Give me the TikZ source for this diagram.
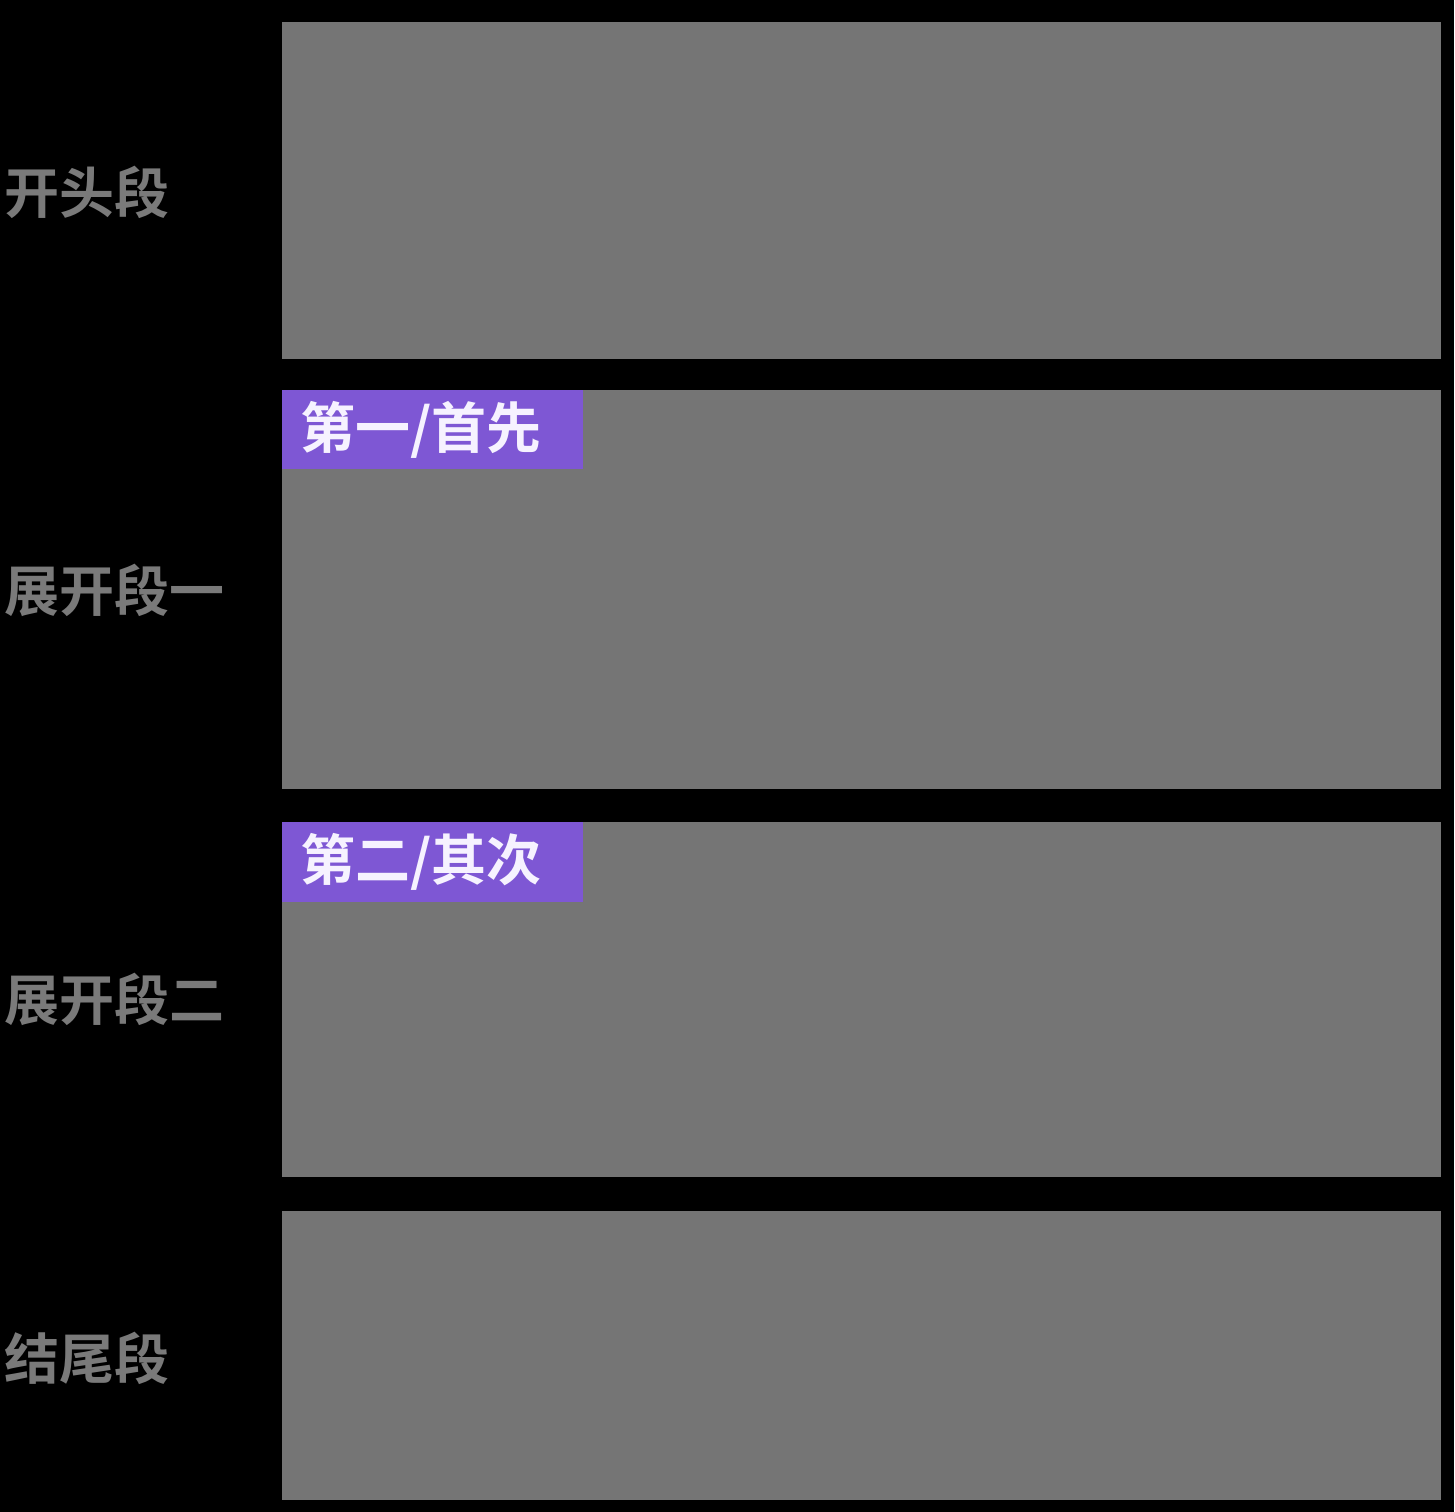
\documentclass[tikz,border=0pt]{standalone}
\usepackage{fontspec}
\newfontfamily\cjk{Noto Sans CJK SC Bold}
\definecolor{boxgray}{HTML}{757575}
\definecolor{labgray}{HTML}{7A7A7A}
\definecolor{tagpurple}{HTML}{7E57D4}
\definecolor{tagtext}{HTML}{F6F2FF}
\tikzset{
  panel/.style={fill=boxgray, draw=none},
  tag/.style={fill=tagpurple, draw=none},
  sidelabel/.style={anchor=west, inner sep=0pt, text=labgray, font=\cjk\fontsize{55}{60}\selectfont},
  tagtextstyle/.style={anchor=west, inner sep=0pt, text=tagtext, font=\cjk\fontsize{55}{60}\selectfont},
}
\begin{document}
\begin{tikzpicture}[x=1pt,y=-1pt]
\fill[black] (0,0) rectangle (1454,1512);
\useasboundingbox (0,0) rectangle (1454,1512);
% panels
\path[panel] (282,22) rectangle (1441,359);
\path[panel] (282,390) rectangle (1441,789);
\path[panel] (282,822) rectangle (1441,1177);
\path[panel] (282,1211) rectangle (1441,1500);
% tags
\path[tag] (282,390) rectangle (583,469);
\path[tag] (282,822) rectangle (583,902);
\node[tagtextstyle] (t1) at (300,430) {第一/首先};
\node[tagtextstyle] (t2) at (300,862) {第二/其次};
% side labels
\node[sidelabel] (l1) at (4,192) {开头段};
\node[sidelabel] (l2) at (4,590) {展开段一};
\node[sidelabel] (l3) at (4,999) {展开段二};
\node[sidelabel] (l4) at (4,1358) {结尾段};
\end{tikzpicture}
\end{document}
